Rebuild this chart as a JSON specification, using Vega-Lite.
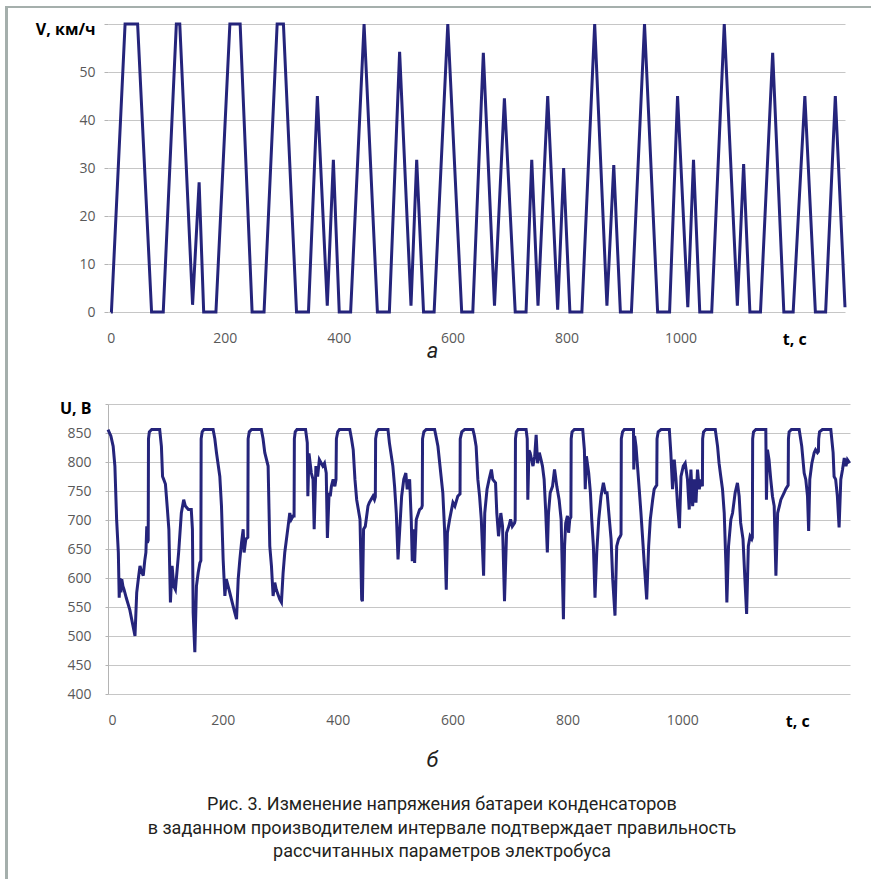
{
  "$schema": "https://vega.github.io/schema/vega-lite/v6.json",
  "background": "white",
  "padding": {"left": 5, "top": 6, "right": 0, "bottom": 0},
  "config": {
    "view": {"stroke": null},
    "axis": {
      "labelFont": "Open Sans",
      "labelFontSize": 14,
      "labelColor": "#595959",
      "gridColor": "#c6c6c6",
      "gridWidth": 1,
      "domainColor": "#b4b4b4",
      "tickColor": "#b4b4b4",
      "titleFont": "Roboto"
    },
    "title": {"font": "Roboto"}
  },
  "datasets": {
    "speed": [
      {"t": 0, "v": 0}, {"t": 1, "v": 0}, {"t": 25, "v": 60}, {"t": 47, "v": 60}, {"t": 71.5, "v": 0}, {"t": 92, "v": 0},
      {"t": 115, "v": 60}, {"t": 121, "v": 60}, {"t": 143.5, "v": 1.5}, {"t": 155, "v": 27}, {"t": 163, "v": 0}, {"t": 184.5, "v": 0},
      {"t": 209, "v": 60}, {"t": 227, "v": 60}, {"t": 248, "v": 0}, {"t": 269, "v": 0}, {"t": 292, "v": 60}, {"t": 303, "v": 60},
      {"t": 326, "v": 0}, {"t": 347, "v": 0}, {"t": 362.6, "v": 45}, {"t": 380, "v": 1.3}, {"t": 390.7, "v": 31.7}, {"t": 401, "v": 0},
      {"t": 421, "v": 0}, {"t": 444.6, "v": 60}, {"t": 468, "v": 0}, {"t": 489, "v": 0}, {"t": 507, "v": 54.2}, {"t": 527, "v": 1.3},
      {"t": 537, "v": 31.7}, {"t": 549, "v": 0}, {"t": 567.6, "v": 0}, {"t": 591.6, "v": 60}, {"t": 616, "v": 0}, {"t": 635.5, "v": 0},
      {"t": 654, "v": 54}, {"t": 673.6, "v": 1.3}, {"t": 691, "v": 44.5}, {"t": 710, "v": 0}, {"t": 729, "v": 0}, {"t": 739, "v": 31.7},
      {"t": 750, "v": 1.3}, {"t": 767, "v": 45}, {"t": 784.5, "v": 0.5}, {"t": 795, "v": 30}, {"t": 806, "v": 0}, {"t": 827, "v": 0},
      {"t": 849.5, "v": 60}, {"t": 871, "v": 1.3}, {"t": 883, "v": 30.6}, {"t": 894.6, "v": 0}, {"t": 914, "v": 0}, {"t": 937, "v": 60},
      {"t": 960, "v": 0}, {"t": 981, "v": 0}, {"t": 995, "v": 45}, {"t": 1013, "v": 1}, {"t": 1023, "v": 31.7}, {"t": 1034, "v": 0},
      {"t": 1055, "v": 0}, {"t": 1077, "v": 60}, {"t": 1100, "v": 1.3}, {"t": 1111, "v": 30.8}, {"t": 1122, "v": 0}, {"t": 1140.6, "v": 0},
      {"t": 1162, "v": 54}, {"t": 1181.6, "v": 0}, {"t": 1198, "v": 0}, {"t": 1218.5, "v": 45}, {"t": 1237, "v": 0}, {"t": 1255, "v": 0},
      {"t": 1272, "v": 45}, {"t": 1289, "v": 1}
    ],
    "voltage": [
      {"t": 0, "u": 856}, {"t": 5, "u": 845}, {"t": 9, "u": 827}, {"t": 12, "u": 793}, {"t": 15, "u": 701}, {"t": 18, "u": 644},
      {"t": 19.5, "u": 566}, {"t": 21, "u": 600}, {"t": 22.5, "u": 575}, {"t": 24, "u": 598}, {"t": 26, "u": 586}, {"t": 28, "u": 580},
      {"t": 32, "u": 565}, {"t": 38, "u": 545}, {"t": 43, "u": 520}, {"t": 47, "u": 500}, {"t": 50, "u": 575}, {"t": 53, "u": 600},
      {"t": 55.7, "u": 621}, {"t": 58, "u": 612}, {"t": 61.4, "u": 604}, {"t": 64, "u": 630}, {"t": 66, "u": 644}, {"t": 67.5, "u": 689},
      {"t": 68.5, "u": 661}, {"t": 70, "u": 665}, {"t": 70.5, "u": 840}, {"t": 72, "u": 852}, {"t": 76, "u": 856}, {"t": 90, "u": 856},
      {"t": 93, "u": 827}, {"t": 95, "u": 775}, {"t": 97, "u": 770}, {"t": 100, "u": 762}, {"t": 103, "u": 724}, {"t": 106, "u": 684},
      {"t": 108.7, "u": 558}, {"t": 111.6, "u": 621}, {"t": 114.5, "u": 586}, {"t": 117.4, "u": 580}, {"t": 123, "u": 644}, {"t": 127.7, "u": 712},
      {"t": 131.8, "u": 735}, {"t": 134.7, "u": 724}, {"t": 140, "u": 718}, {"t": 145, "u": 718}, {"t": 147, "u": 684}, {"t": 148.3, "u": 540},
      {"t": 151.2, "u": 472}, {"t": 154, "u": 586}, {"t": 157, "u": 609}, {"t": 160, "u": 626}, {"t": 161.7, "u": 630}, {"t": 162.2, "u": 840},
      {"t": 164, "u": 852}, {"t": 167, "u": 856}, {"t": 183, "u": 856}, {"t": 186, "u": 840}, {"t": 188.9, "u": 816}, {"t": 194.7, "u": 775},
      {"t": 197.6, "u": 724}, {"t": 200.5, "u": 632}, {"t": 203.5, "u": 569}, {"t": 206, "u": 598}, {"t": 212, "u": 575}, {"t": 217, "u": 555},
      {"t": 220.9, "u": 540}, {"t": 223.8, "u": 529}, {"t": 226.7, "u": 598}, {"t": 229.6, "u": 632}, {"t": 232.5, "u": 661}, {"t": 235.4, "u": 684},
      {"t": 237, "u": 644}, {"t": 240, "u": 667}, {"t": 243.5, "u": 670}, {"t": 244, "u": 840}, {"t": 246, "u": 852}, {"t": 250, "u": 856},
      {"t": 267, "u": 856}, {"t": 270, "u": 840}, {"t": 273, "u": 816}, {"t": 278.8, "u": 793}, {"t": 281.7, "u": 655}, {"t": 284.6, "u": 621},
      {"t": 287.5, "u": 569}, {"t": 290.4, "u": 592}, {"t": 293, "u": 580}, {"t": 299.1, "u": 563}, {"t": 302, "u": 558}, {"t": 304.9, "u": 609},
      {"t": 307.8, "u": 644}, {"t": 313.6, "u": 689}, {"t": 316.5, "u": 712}, {"t": 319, "u": 701}, {"t": 322.3, "u": 707}, {"t": 324, "u": 707},
      {"t": 324.5, "u": 840}, {"t": 326, "u": 852}, {"t": 329, "u": 856}, {"t": 344, "u": 856}, {"t": 347, "u": 833}, {"t": 348, "u": 741},
      {"t": 350, "u": 815}, {"t": 354, "u": 781}, {"t": 357, "u": 770}, {"t": 359, "u": 684}, {"t": 362, "u": 793}, {"t": 365, "u": 775},
      {"t": 368, "u": 804}, {"t": 374, "u": 793}, {"t": 377, "u": 798}, {"t": 380, "u": 781}, {"t": 382, "u": 669}, {"t": 385, "u": 747},
      {"t": 387, "u": 741}, {"t": 389, "u": 758}, {"t": 392, "u": 770}, {"t": 395, "u": 758}, {"t": 397, "u": 770}, {"t": 397.7, "u": 840},
      {"t": 400, "u": 852}, {"t": 403, "u": 856}, {"t": 421, "u": 856}, {"t": 424, "u": 840}, {"t": 427, "u": 821}, {"t": 430, "u": 770},
      {"t": 433, "u": 735}, {"t": 438.8, "u": 701}, {"t": 441.7, "u": 563}, {"t": 443, "u": 560}, {"t": 445, "u": 684}, {"t": 448, "u": 689},
      {"t": 452.7, "u": 724}, {"t": 455, "u": 730}, {"t": 461.4, "u": 741}, {"t": 464, "u": 735}, {"t": 465.5, "u": 740}, {"t": 466, "u": 840},
      {"t": 468, "u": 852}, {"t": 471, "u": 856}, {"t": 487.5, "u": 856}, {"t": 490, "u": 833}, {"t": 496, "u": 793}, {"t": 499, "u": 758},
      {"t": 502, "u": 712}, {"t": 505, "u": 632}, {"t": 508, "u": 684}, {"t": 511.3, "u": 741}, {"t": 515, "u": 770}, {"t": 518.6, "u": 781},
      {"t": 521, "u": 753}, {"t": 525.2, "u": 770}, {"t": 528, "u": 701}, {"t": 529.8, "u": 629}, {"t": 532, "u": 684}, {"t": 533.9, "u": 626},
      {"t": 536.8, "u": 701}, {"t": 542.6, "u": 718}, {"t": 546, "u": 721}, {"t": 547.2, "u": 725}, {"t": 547.7, "u": 840}, {"t": 550, "u": 852},
      {"t": 554, "u": 856}, {"t": 568.7, "u": 856}, {"t": 571, "u": 845}, {"t": 574.5, "u": 827}, {"t": 580, "u": 775}, {"t": 583, "u": 747},
      {"t": 586, "u": 684}, {"t": 589, "u": 580}, {"t": 591, "u": 678}, {"t": 594.8, "u": 701}, {"t": 600.6, "u": 730}, {"t": 604, "u": 724},
      {"t": 609, "u": 741}, {"t": 613, "u": 745}, {"t": 613.3, "u": 840}, {"t": 616, "u": 852}, {"t": 621, "u": 856}, {"t": 635.4, "u": 856},
      {"t": 638, "u": 845}, {"t": 641, "u": 827}, {"t": 644, "u": 770}, {"t": 647, "u": 741}, {"t": 650, "u": 701}, {"t": 654, "u": 604},
      {"t": 656, "u": 712}, {"t": 660, "u": 753}, {"t": 663.6, "u": 770}, {"t": 667.6, "u": 787}, {"t": 670, "u": 770}, {"t": 674.8, "u": 764},
      {"t": 677, "u": 712}, {"t": 680, "u": 672}, {"t": 684, "u": 712}, {"t": 687, "u": 689}, {"t": 690.4, "u": 560}, {"t": 694, "u": 678},
      {"t": 698, "u": 689}, {"t": 701, "u": 701}, {"t": 704, "u": 689}, {"t": 708, "u": 695}, {"t": 709, "u": 700}, {"t": 709.5, "u": 840},
      {"t": 711, "u": 852}, {"t": 714, "u": 856}, {"t": 728, "u": 856}, {"t": 730, "u": 840}, {"t": 731, "u": 735}, {"t": 733, "u": 820},
      {"t": 735, "u": 816}, {"t": 740, "u": 793}, {"t": 743, "u": 810}, {"t": 745.5, "u": 847}, {"t": 748, "u": 798}, {"t": 751, "u": 816},
      {"t": 754, "u": 804}, {"t": 756.5, "u": 793}, {"t": 759.4, "u": 770}, {"t": 762, "u": 718}, {"t": 765, "u": 644}, {"t": 767, "u": 712},
      {"t": 770, "u": 747}, {"t": 774, "u": 758}, {"t": 777.5, "u": 787}, {"t": 781.5, "u": 758}, {"t": 785.5, "u": 735}, {"t": 789, "u": 701},
      {"t": 793, "u": 529}, {"t": 795, "u": 655}, {"t": 797, "u": 695}, {"t": 800, "u": 707}, {"t": 802, "u": 678}, {"t": 804, "u": 701},
      {"t": 806, "u": 705}, {"t": 806.5, "u": 840}, {"t": 808, "u": 852}, {"t": 812, "u": 856}, {"t": 826.6, "u": 856}, {"t": 829.5, "u": 821},
      {"t": 831, "u": 753}, {"t": 833, "u": 810}, {"t": 837, "u": 781}, {"t": 840, "u": 747}, {"t": 842.3, "u": 701}, {"t": 845.2, "u": 655},
      {"t": 848, "u": 566}, {"t": 851, "u": 644}, {"t": 854.5, "u": 701}, {"t": 858.5, "u": 741}, {"t": 862.6, "u": 764}, {"t": 866, "u": 747},
      {"t": 869, "u": 747}, {"t": 873, "u": 701}, {"t": 876, "u": 667}, {"t": 878.8, "u": 598}, {"t": 882.8, "u": 535}, {"t": 885.8, "u": 655},
      {"t": 889, "u": 667}, {"t": 892, "u": 672}, {"t": 893.3, "u": 675}, {"t": 893.8, "u": 840}, {"t": 896, "u": 852}, {"t": 899, "u": 856},
      {"t": 915, "u": 856}, {"t": 915.5, "u": 787}, {"t": 917, "u": 845}, {"t": 919.4, "u": 827}, {"t": 922, "u": 793}, {"t": 925, "u": 753},
      {"t": 928, "u": 712}, {"t": 931, "u": 667}, {"t": 934, "u": 621}, {"t": 938, "u": 563}, {"t": 941.4, "u": 655}, {"t": 944.3, "u": 701},
      {"t": 948.4, "u": 735}, {"t": 951, "u": 753}, {"t": 954, "u": 758}, {"t": 955.5, "u": 760}, {"t": 956, "u": 840}, {"t": 958, "u": 852},
      {"t": 963, "u": 856}, {"t": 977.4, "u": 856}, {"t": 980, "u": 816}, {"t": 983, "u": 753}, {"t": 986, "u": 804}, {"t": 989, "u": 770},
      {"t": 991.9, "u": 724}, {"t": 995, "u": 686}, {"t": 997.7, "u": 775}, {"t": 1001.7, "u": 793}, {"t": 1005, "u": 798}, {"t": 1009, "u": 770},
      {"t": 1012, "u": 718}, {"t": 1015, "u": 787}, {"t": 1018, "u": 724}, {"t": 1021, "u": 770}, {"t": 1023.8, "u": 730}, {"t": 1026.5, "u": 787},
      {"t": 1029.6, "u": 753}, {"t": 1032, "u": 770}, {"t": 1035, "u": 758}, {"t": 1035.4, "u": 840}, {"t": 1037, "u": 852}, {"t": 1041, "u": 856},
      {"t": 1057.4, "u": 856}, {"t": 1061.4, "u": 827}, {"t": 1064, "u": 798}, {"t": 1067, "u": 775}, {"t": 1070, "u": 753}, {"t": 1073, "u": 712},
      {"t": 1076, "u": 621}, {"t": 1077.6, "u": 558}, {"t": 1080.5, "u": 655}, {"t": 1084.6, "u": 701}, {"t": 1087.5, "u": 712}, {"t": 1092, "u": 747},
      {"t": 1096, "u": 764}, {"t": 1099, "u": 741}, {"t": 1101.6, "u": 695}, {"t": 1105.7, "u": 667}, {"t": 1109, "u": 598}, {"t": 1112, "u": 538},
      {"t": 1115, "u": 655}, {"t": 1118, "u": 672}, {"t": 1121, "u": 667}, {"t": 1122, "u": 670}, {"t": 1122.5, "u": 840}, {"t": 1124, "u": 852},
      {"t": 1128, "u": 856}, {"t": 1145.4, "u": 856}, {"t": 1146.5, "u": 735}, {"t": 1148.3, "u": 821}, {"t": 1151, "u": 804}, {"t": 1154, "u": 770},
      {"t": 1157, "u": 741}, {"t": 1160, "u": 724}, {"t": 1163, "u": 604}, {"t": 1166, "u": 712}, {"t": 1169, "u": 724}, {"t": 1171.6, "u": 735},
      {"t": 1177.4, "u": 747}, {"t": 1180, "u": 753}, {"t": 1183, "u": 758}, {"t": 1184.3, "u": 760}, {"t": 1184.8, "u": 840}, {"t": 1186, "u": 852},
      {"t": 1190, "u": 856}, {"t": 1203.5, "u": 856}, {"t": 1206, "u": 840}, {"t": 1208, "u": 827}, {"t": 1212.2, "u": 781}, {"t": 1215, "u": 770},
      {"t": 1218, "u": 741}, {"t": 1220, "u": 681}, {"t": 1222, "u": 770}, {"t": 1225.6, "u": 798}, {"t": 1229.6, "u": 816}, {"t": 1232, "u": 821},
      {"t": 1235.4, "u": 816}, {"t": 1237, "u": 818}, {"t": 1237.5, "u": 840}, {"t": 1239, "u": 852}, {"t": 1244, "u": 856}, {"t": 1258.6, "u": 856},
      {"t": 1262.6, "u": 816}, {"t": 1264.3, "u": 775}, {"t": 1267, "u": 770}, {"t": 1270, "u": 741}, {"t": 1273, "u": 687}, {"t": 1276, "u": 770},
      {"t": 1279, "u": 787}, {"t": 1282, "u": 807}, {"t": 1285, "u": 793}, {"t": 1287.5, "u": 804}, {"t": 1291.5, "u": 798}
    ]
  },
  "spacing": 0,
  "bounds": "flush",
  "vconcat": [
    {
      "width": 866,
      "height": 2,
      "data": {"values": []},
      "mark": "point",
      "encoding": {},
      "view": {"fill": "#a5afac", "stroke": null}
    },
    {
      "spacing": 100,
      "bounds": "flush",
      "hconcat": [
        {
          "width": 3,
          "height": 871,
          "data": {"values": []},
          "mark": "point",
          "encoding": {},
          "view": {"fill": "#a5afac", "stroke": null}
        },
        {
          "spacing": 6,
          "bounds": "flush",
          "vconcat": [
            {
              "width": 742,
              "height": 10,
              "data": {"values": []},
              "mark": "point",
              "encoding": {}
            },
            {
              "width": 737,
              "height": 288,
              "data": {"name": "speed"},
              "mark": {"type": "line", "color": "#25247b", "strokeWidth": 3},
              "encoding": {
                "x": {
                  "field": "t",
                  "type": "quantitative",
                  "scale": {"domain": [-5, 1289], "nice": false, "zero": false},
                  "axis": {
                    "values": [0, 200, 400, 600, 800, 1000, 1200],
                    "format": "d",
                    "grid": false,
                    "domain": false,
                    "ticks": false,
                    "labelPadding": 19,
                    "labelExpr": "datum.value == 1200 ? 't, с' : datum.label",
                    "labelFontWeight": {"condition": {"test": "datum.value == 1200", "value": "bold"}, "value": "normal"},
                    "labelColor": {"condition": {"test": "datum.value == 1200", "value": "#000000"}, "value": "#595959"},
                    "labelFontSize": {"condition": {"test": "datum.value == 1200", "value": 16}, "value": 14},
                    "title": "а",
                    "titleFontSize": 22,
                    "titleFontStyle": "italic",
                    "titleFontWeight": "normal",
                    "titleColor": "#231f20",
                    "titleX": 324,
                    "titleY": 45,
                    "titleBaseline": "alphabetic"
                  }
                },
                "y": {
                  "field": "v",
                  "type": "quantitative",
                  "scale": {"domain": [0, 60], "nice": false},
                  "axis": {
                    "values": [0, 10, 20, 30, 40, 50, 60],
                    "grid": true,
                    "domain": false,
                    "tickSize": 4,
                    "labelPadding": 9,
                    "labelExpr": "datum.value == 60 ? 'V,  км/ч' : datum.label",
                    "labelFontWeight": {"condition": {"test": "datum.value == 60", "value": "bold"}, "value": "normal"},
                    "labelColor": {"condition": {"test": "datum.value == 60", "value": "#000000"}, "value": "#595959"},
                    "labelFontSize": {"condition": {"test": "datum.value == 60", "value": 16}, "value": 14},
                    "labelOffset": {"condition": {"test": "datum.value == 60", "value": 5}, "value": 0},
                    "title": null
                  }
                }
              }
            },
            {
              "width": 742,
              "height": 80,
              "data": {"values": []},
              "mark": "point",
              "encoding": {}
            },
            {
              "width": 742,
              "height": 290,
              "data": {"name": "voltage"},
              "title": {
                "text": [
                  "Рис. 3. Изменение напряжения батареи конденсаторов",
                  "в заданном производителем интервале подтверждает правильность",
                  "рассчитанных параметров электробуса"
                ],
                "orient": "bottom",
                "anchor": "middle",
                "frame": "group",
                "dx": -37,
                "offset": 26,
                "fontSize": 18,
                "fontWeight": "normal",
                "color": "#231f20",
                "lineHeight": 23.5
              },
              "mark": {"type": "line", "color": "#25247b", "strokeWidth": 3},
              "encoding": {
                "x": {
                  "field": "t",
                  "type": "quantitative",
                  "scale": {"domain": [0, 1292], "nice": false},
                  "axis": {
                    "values": [0, 200, 400, 600, 800, 1000, 1200],
                    "format": "d",
                    "grid": false,
                    "domain": false,
                    "ticks": false,
                    "labelPadding": 19,
                    "labelExpr": "datum.value == 1200 ? 't, с' : datum.label",
                    "labelFontWeight": {"condition": {"test": "datum.value == 1200", "value": "bold"}, "value": "normal"},
                    "labelColor": {"condition": {"test": "datum.value == 1200", "value": "#000000"}, "value": "#595959"},
                    "labelFontSize": {"condition": {"test": "datum.value == 1200", "value": 16}, "value": 14},
                    "title": "б",
                    "titleFontSize": 22,
                    "titleFontStyle": "italic",
                    "titleFontWeight": "normal",
                    "titleColor": "#231f20",
                    "titleX": 324,
                    "titleY": 72,
                    "titleBaseline": "alphabetic"
                  }
                },
                "y": {
                  "field": "u",
                  "type": "quantitative",
                  "scale": {"domain": [400, 900], "nice": false, "zero": false},
                  "axis": {
                    "values": [400, 450, 500, 550, 600, 650, 700, 750, 800, 850, 900],
                    "grid": true,
                    "domain": true,
                    "tickSize": 3,
                    "labelPadding": 14,
                    "labelExpr": "datum.value == 900 ? 'U, В' : datum.label",
                    "labelFontWeight": {"condition": {"test": "datum.value == 900", "value": "bold"}, "value": "normal"},
                    "labelColor": {"condition": {"test": "datum.value == 900", "value": "#000000"}, "value": "#595959"},
                    "labelFontSize": {"condition": {"test": "datum.value == 900", "value": 16}, "value": 14},
                    "labelOffset": {"condition": {"test": "datum.value == 900", "value": 4}, "value": 0},
                    "title": null
                  }
                }
              }
            }
          ]
        }
      ]
    }
  ]
}
